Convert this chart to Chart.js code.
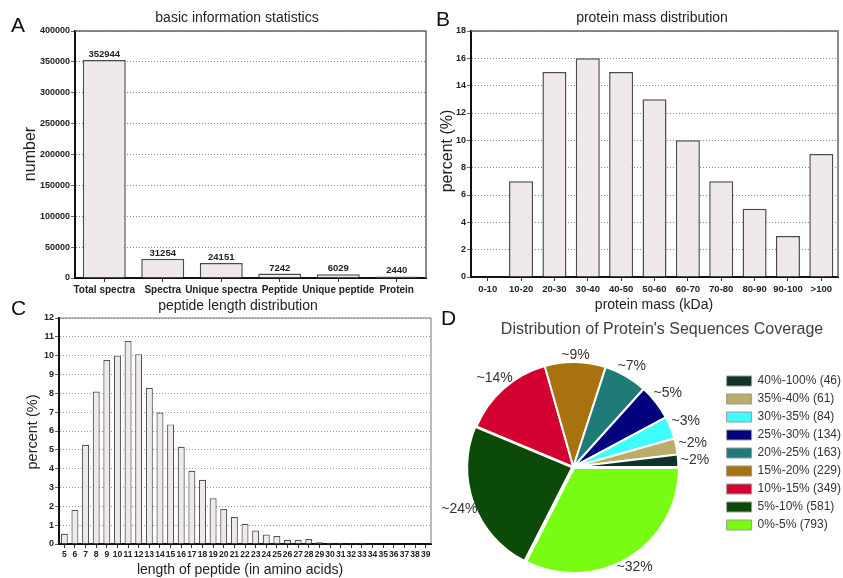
<!DOCTYPE html>
<html><head><meta charset="utf-8">
<script src="https://cdn.jsdelivr.net/npm/chart.js@4.4.1/dist/chart.umd.min.js"></script>
<style>
html,body{margin:0;padding:0;background:#fff;}
#wrap{position:relative;width:843px;height:578px;overflow:hidden;background:#fff;}
canvas{position:absolute;}
</style></head><body>
<div id="wrap">
<canvas id="cA" style="left:0px;top:0px;"></canvas>
<canvas id="cB" style="left:430px;top:0px;"></canvas>
<canvas id="cC" style="left:0px;top:298px;"></canvas>
<canvas id="cD" style="left:420px;top:298px;"></canvas>
</div>
<script>
// ---------- Panel A: basic information statistics ----------
const basicCategories = ['Total spectra', 'Spectra', 'Unique spectra', 'Peptide', 'Unique peptide', 'Protein'];
const basicCounts = [352944, 31254, 24151, 7242, 6029, 2440];

// ---------- Panel B: protein mass distribution ----------
const massCategories = ['0-10', '10-20', '20-30', '30-40', '40-50', '50-60', '60-70', '70-80', '80-90', '90-100', '>100'];
const massPercent = [0, 7, 15, 16, 15, 13, 10, 7, 5, 3, 9];

// ---------- Panel C: peptide length distribution ----------
const lengthCategories = ['5','6','7','8','9','10','11','12','13','14','15','16','17','18','19','20','21','22',
  '23','24','25','26','27','28','29','30','31','32','33','34','35','36','37','38','39'];
const lengthPercent = [0.54, 1.82, 5.27, 8.1, 9.77, 10.0, 10.78, 10.08, 8.3, 6.98, 6.35, 5.16, 3.89, 3.41, 2.43, 1.86, 1.43, 1.07,
  0.72, 0.5, 0.42, 0.22, 0.22, 0.26, 0.09, 0.06, 0.06, 0.01, 0.06, 0, 0, 0, 0, 0, 0];

// ---------- Panel D: sequence coverage ----------
const coverageRanges = ['0%-5%', '5%-10%', '10%-15%', '15%-20%', '20%-25%', '25%-30%', '30%-35%', '35%-40%', '40%-100%'];
const coverageCounts = [793, 581, 349, 229, 163, 134, 84, 61, 46];
const coveragePctLabels = ['~32%', '~24%', '~14%', '~9%', '~7%', '~5%', '~3%', '~2%', '~2%'];
const coverageColors = ['#78fc14', '#0c4a08', '#d4002f', '#a8720f', '#1f7b78', '#02027f', '#3dfdfd', '#bbad69', '#11322a'];

const FONT = '"Liberation Sans", Arial, Helvetica, sans-serif';

function textPlugin(items) {
  return {
    id: 'panelText',
    afterDraw(chart) {
      const ctx = chart.ctx;
      items.forEach(it => {
        ctx.save();
        ctx.font = (it.weight || 'normal') + ' ' + it.size + 'px ' + FONT;
        ctx.fillStyle = it.color || '#222';
        ctx.textAlign = it.align || 'center';
        ctx.textBaseline = it.baseline || 'alphabetic';
        ctx.translate(it.x, it.y);
        if (it.rotate) ctx.rotate(it.rotate);
        ctx.fillText(it.text, 0, 0);
        ctx.restore();
      });
    }
  };
}

function framePlugin(color, width) {
  return {
    id: 'frame',
    beforeDatasetsDraw(chart) {
      const {ctx, chartArea: a} = chart;
      ctx.save();
      ctx.strokeStyle = color;
      ctx.lineWidth = width;
      ctx.beginPath();
      ctx.moveTo(a.left, a.top);
      ctx.lineTo(a.right, a.top);
      ctx.lineTo(a.right, a.bottom);
      ctx.stroke();
      ctx.restore();
    }
  };
}

function setSize(id, w, h) {
  const c = document.getElementById(id);
  c.width = w; c.height = h;
  c.style.width = w + 'px'; c.style.height = h + 'px';
  return c;
}

function barChart(cfg) {
  const canvas = setSize(cfg.id, cfg.w, cfg.h);
  return new Chart(canvas, {
    type: 'bar',
    data: {
      labels: cfg.labels,
      datasets: [{
        data: cfg.values,
        backgroundColor: '#efe9ea',
        borderColor: cfg.barBorder || '#4d4d4d',
        borderWidth: cfg.barBorderWidth || 1.5,
        barPercentage: cfg.barPct,
        categoryPercentage: 1
      }]
    },
    options: {
      responsive: false,
      animation: false,
      events: [],
      layout: {padding: {top: cfg.padTop, right: cfg.padRight, left: 0, bottom: 0}},
      plugins: {legend: {display: false}, tooltip: {enabled: false}},
      scales: {
        x: {
          afterFit: a => { a.height = cfg.xh; },
          grid: {display: true, drawOnChartArea: false, offset: false, tickLength: 4, tickColor: '#333', tickWidth: 1},
          border: {display: true, color: '#111', width: 2},
          ticks: {autoSkip: false, maxRotation: 0, minRotation: 0, padding: cfg.xPad, color: '#222',
            font: {family: FONT, size: cfg.xFont, weight: 'bold'}}
        },
        y: {
          min: cfg.min, max: cfg.max,
          afterFit: a => { a.width = cfg.yw; },
          ticks: {stepSize: cfg.step, padding: 1, color: '#222', font: {family: FONT, size: 9, weight: 'bold'},
            callback: v => String(v)},
          grid: {color: cfg.gridColor, lineWidth: 1, tickLength: 4, tickColor: '#666', tickWidth: 1, tickBorderDash: []},
          border: {display: true, color: '#111', width: 2, dash: [1, 2]}
        }
      }
    },
    plugins: [framePlugin(cfg.frameColor, cfg.frameWidth), textPlugin(cfg.texts)].concat(cfg.extra || [])
  });
}

// Panel A
const valueLabels = {
  id: 'valueLabels',
  afterDatasetsDraw(chart) {
    const ctx = chart.ctx;
    const meta = chart.getDatasetMeta(0);
    ctx.save();
    ctx.font = 'bold 9.5px ' + FONT;
    ctx.fillStyle = '#222';
    ctx.textAlign = 'center';
    ctx.textBaseline = 'alphabetic';
    meta.data.forEach((bar, i) => {
      ctx.fillText(String(basicCounts[i]), bar.x, bar.y - 3);
    });
    ctx.restore();
  }
};

barChart({
  id: 'cA', w: 430, h: 298, labels: basicCategories, values: basicCounts,
  min: 0, max: 400000, step: 50000, barPct: 0.735,
  padTop: 31, padRight: 4, yw: 75, xh: 20, xPad: 2, xFont: 10,
  gridColor: '#888', frameColor: '#666', frameWidth: 1.5,
  texts: [
    {text: 'A', x: 11, y: 32, size: 21, align: 'left', color: '#111'},
    {text: 'basic information statistics', x: 237, y: 22, size: 14, color: '#222'},
    {text: 'number', x: 31, y: 154, size: 16, rotate: -Math.PI / 2, baseline: 'middle', color: '#222'}
  ],
  extra: [valueLabels]
});

// Panel B
barChart({
  id: 'cB', w: 413, h: 320, labels: massCategories, values: massPercent,
  min: 0, max: 18, step: 2, barPct: 0.72,
  padTop: 31, padRight: 5, yw: 41, xh: 43, xPad: 3, xFont: 9.5,
  gridColor: '#888', frameColor: '#666', frameWidth: 1.5,
  texts: [
    {text: 'B', x: 6, y: 26, size: 21, align: 'left', color: '#111'},
    {text: 'protein mass distribution', x: 222, y: 22, size: 14, color: '#222'},
    {text: 'percent (%)', x: 18, y: 151, size: 16, rotate: -Math.PI / 2, baseline: 'middle', color: '#222'},
    {text: 'protein mass (kDa)', x: 224, y: 309, size: 14, color: '#222'}
  ]
});

// Panel C
barChart({
  id: 'cC', w: 440, h: 280, labels: lengthCategories, values: lengthPercent,
  min: 0, max: 12, step: 1, barPct: 0.66, barBorderWidth: 1.2, barBorder: '#555',
  padTop: 20, padRight: 9, yw: 59, xh: 34, xPad: 2, xFont: 8.5,
  gridColor: '#999', frameColor: '#777', frameWidth: 1,
  texts: [
    {text: 'C', x: 11, y: 17, size: 21, align: 'left', color: '#111'},
    {text: 'peptide length distribution', x: 238, y: 12, size: 14, color: '#222'},
    {text: 'percent (%)', x: 33, y: 134, size: 14.5, rotate: -Math.PI / 2, baseline: 'middle', color: '#222'},
    {text: 'length of peptide (in amino acids)', x: 240, y: 276, size: 14, color: '#222'}
  ]
});

// Panel D
const pctLabelsPlugin = {
  id: 'pctLabels',
  afterDatasetsDraw(chart) {
    const ctx = chart.ctx;
    const meta = chart.getDatasetMeta(0);
    ctx.save();
    ctx.font = '14px ' + FONT;
    ctx.fillStyle = '#333';
    ctx.textAlign = 'center';
    ctx.textBaseline = 'middle';
    meta.data.forEach((arc, i) => {
      const p = arc.getProps(['x', 'y', 'startAngle', 'endAngle', 'outerRadius'], true);
      const mid = (p.startAngle + p.endAngle) / 2;
      const r = p.outerRadius + 7 + 10 * Math.abs(Math.cos(mid));
      ctx.fillText(coveragePctLabels[i], p.x + Math.cos(mid) * r, p.y + Math.sin(mid) * r);
    });
    ctx.restore();
  }
};

const cD = setSize('cD', 431, 280);
new Chart(cD, {
  type: 'pie',
  data: {
    labels: coverageRanges.map((r, i) => r + ' (' + coverageCounts[i] + ')'),
    datasets: [{
      data: coverageCounts,
      backgroundColor: coverageColors,
      borderColor: '#ffffff',
      borderWidth: 2,
      offset: [5, 5, 0, 0, 0, 0, 0, 0, 0]
    }]
  },
  options: {
    responsive: false,
    animation: false,
    events: [],
    rotation: 90,
    radius: 105,
    layout: {padding: {top: 71, bottom: 13, left: 6, right: 0}},
    plugins: {
      tooltip: {enabled: false},
      legend: {
        position: 'right', align: 'start', reverse: true,
        labels: {
          boxWidth: 25, boxHeight: 10, padding: 6, color: '#333',
          font: {family: FONT, size: 12},
          generateLabels: chart => chart.data.labels.map((t, i) => ({
            text: t, fillStyle: coverageColors[i], strokeStyle: '#999', lineWidth: 1,
            hidden: false, index: i, fontColor: '#333'
          }))
        }
      }
    }
  },
  plugins: [pctLabelsPlugin, textPlugin([
    {text: 'D', x: 21, y: 27, size: 21, align: 'left', color: '#111'},
    {text: "Distribution of Protein's Sequences Coverage", x: 242, y: 36, size: 16, color: '#404040'}
  ])]
});
</script>
</body></html>
